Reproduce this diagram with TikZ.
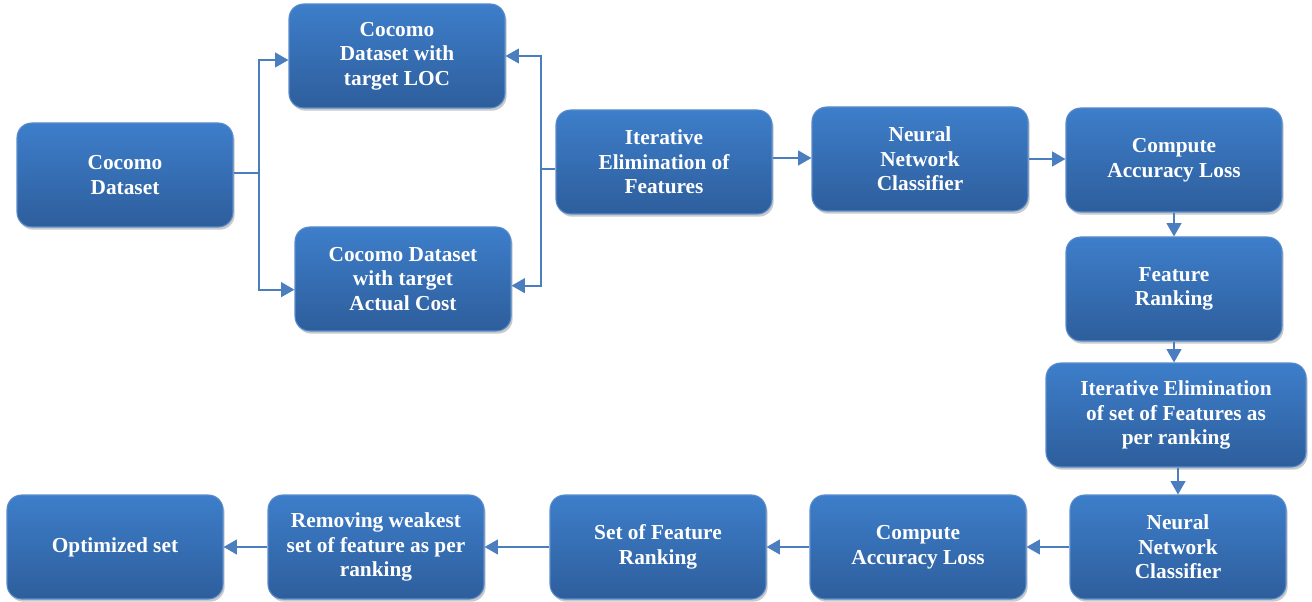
\documentclass[tikz,border=0pt]{standalone}
\usepackage{fontspec}
\setmainfont{Liberation Serif}
\usetikzlibrary{arrows.meta,shadows}
\definecolor{boxtop}{RGB}{61,126,202}
\definecolor{boxbot}{RGB}{46,94,156}
\definecolor{boxline}{RGB}{90,140,205}
\definecolor{linkc}{RGB}{74,126,190}
\tikzset{
  step box/.style = {rectangle, rounded corners=11pt, draw=boxline, line width=0.8pt,
                     top color=boxtop, bottom color=boxbot, text=white,
                     minimum width=162pt, minimum height=78pt, align=center,
                     font=\bfseries\fontsize{16}{18.5}\selectfont,
                     drop shadow={shadow xshift=1.2pt, shadow yshift=-2pt, opacity=0.35, fill=black!60}},
  wide box/.style = {step box, minimum width=195pt},
  flow/.style     = {-{Triangle[length=10pt,width=11pt]}, line width=1.5pt, draw=linkc},
  link/.style     = {line width=1.5pt, draw=linkc},
}

\begin{document}
\begin{tikzpicture}[x=0.75pt,y=-0.75pt]
      \useasboundingbox (0,0) rectangle (1312,602);

      % upper part
      \node[step box] (cocomo) at (125,175)  {Cocomo\\Dataset};
      \node[step box] (loc)    at (397,56)   {Cocomo\\Dataset with\\target LOC};
      \node[step box] (cost)   at (403,279)  {Cocomo Dataset\\with target\\Actual Cost};
      \node[step box] (iter)   at (664,162)  {Iterative\\Elimination of\\Features};
      \node[step box] (nnA)    at (920,159)  {Neural\\Network\\Classifier};
      \node[step box] (lossA)  at (1174,160) {Compute\\Accuracy Loss};
      \node[step box] (rank)   at (1174,289) {Feature\\Ranking};
      \node[wide box] (iterset) at (1176,415) {Iterative Elimination\\of set of Features as\\per ranking};

      % lower part
      \node[step box] (nnB)    at (1178,547) {Neural\\Network\\Classifier};
      \node[step box] (lossB)  at (918,547)  {Compute\\Accuracy Loss};
      \node[step box] (setrank) at (658,547) {Set of Feature\\Ranking};
      \node[step box] (remove) at (376,547)  {Removing weakest\\set of feature as per\\ranking};
      \node[step box] (best)   at (115,547)  {Optimized set};

      \coordinate (split) at (259,173);
      \coordinate (merge) at (541,169);

      \draw[link] (cocomo.east |- split) -- (split);
      \draw[flow] (split) |- ([yshift=-3pt]loc.west);
      \draw[flow] (split) |- ([yshift=-8pt]cost.west);
      \draw[link] (iter.west |- merge) -- (merge);
      \draw[flow] (merge) |- (loc.east);
      \draw[flow] (merge) |- ([yshift=-5pt]cost.east);

      \draw[flow] ([yshift=3pt]iter.east) -- ([yshift=3pt]iter.east -| nnA.west);
      \draw[flow] (nnA.east) -- (nnA.east -| lossA.west);
      \draw[flow] (lossA) -- (rank);
      \draw[flow] (rank) -- (rank |- iterset.north);
      \draw[flow] (iterset.south -| nnB) -- (nnB);
      \draw[flow] (nnB) -- (lossB);
      \draw[flow] (lossB) -- (setrank);
      \draw[flow] (setrank) -- (remove);
      \draw[flow] (remove) -- (best);
    \end{tikzpicture}
\end{document}
